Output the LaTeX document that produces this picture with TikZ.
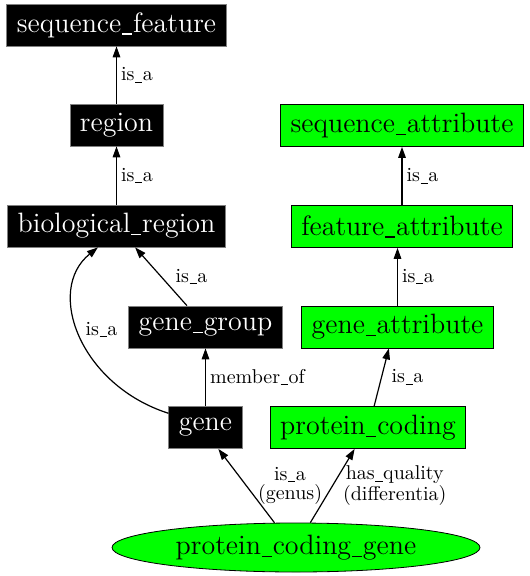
\documentclass[tikz,border=0pt]{standalone}
\usepackage{xcolor}
\usetikzlibrary{arrows.meta,shapes.geometric}
\definecolor{termgreen}{HTML}{00FF00}
\newcommand{\uscore}{\kern0.03em\rule[-0.2ex]{0.36em}{0.04em}\kern0.03em}

\begin{document}
\begin{tikzpicture}[x=0.5pt, y=-0.5pt, >={Triangle[length=5.5pt,width=3.8pt]},
  every node/.style={font=\fontsize{14}{16}\selectfont},
  blackterm/.style={draw=gray, fill=black, text=white, inner xsep=5pt, inner ysep=0pt, minimum height=21pt},
  greenterm/.style={draw=black, fill=termgreen, inner xsep=5pt, inner ysep=0pt, minimum height=21pt},
  rel/.style={font=\fontsize{10}{9.5}\selectfont, inner sep=2pt},
  link/.style={->, line width=0.6pt}]
\useasboundingbox (0,0) rectangle (529,576);
% sequence feature side
\node[blackterm] (seqfeat) at (116.5,25) {sequence\uscore feature};
\node[blackterm] (region) at (116.5,125) {region};
\node[blackterm] (bioreg) at (116.5,226) {biological\uscore region};
\node[blackterm] (genegroup) at (205.5,327) {gene\uscore group};
\node[blackterm] (gene) at (205.5,427.5) {gene};
% attribute side
\node[greenterm] (seqattr) at (402,125.5) {sequence\uscore attribute};
\node[greenterm] (featattr) at (402,226.5) {feature\uscore attribute};
\node[greenterm] (geneattr) at (397.5,327) {gene\uscore attribute};
\node[greenterm] (protcod) at (368,427.5) {protein\uscore coding};
\node[ellipse, draw=black, fill=termgreen, minimum width=184pt, minimum height=24.5pt, inner sep=0pt] (pcgene) at (296,547.5) {protein\uscore coding\uscore gene};

\draw[link] (region.north) -- (seqfeat.south) node[rel, midway, right] {is\uscore a};
\draw[link] (bioreg.north) -- (region.south) node[rel, midway, right] {is\uscore a};
\draw[link] (genegroup.131) -- (bioreg.-49) node[rel, midway, right=5pt] {is\uscore a};
\draw[link] (gene.159) .. controls (80,385) and (45,290) .. (bioreg.-131) node[rel, pos=0.53, right=1.5pt] {is\uscore a};
\draw[link] (gene.north) -- (genegroup.south) node[rel, midway, right] {member\uscore of};
\draw[link] (featattr.north) -- (featattr.north |- seqattr.south) node[rel, midway, right] {is\uscore a};
\draw[link] (geneattr.north) -- (geneattr.north |- featattr.south) node[rel, midway, right] {is\uscore a};
\draw[link] (protcod.74) -- (geneattr.-112) node[rel, midway, right=2.75pt] {is\uscore a};
\draw[link] (pcgene.131) -- (gene.-59) node[rel, midway, right=3.5pt, align=center] {is\uscore a\\(genus)};
\draw[link] (pcgene.60) -- (protcod.-122) node[rel, midway, right=3pt, align=center] {has\uscore quality\\(differentia)};
\end{tikzpicture}
\end{document}
